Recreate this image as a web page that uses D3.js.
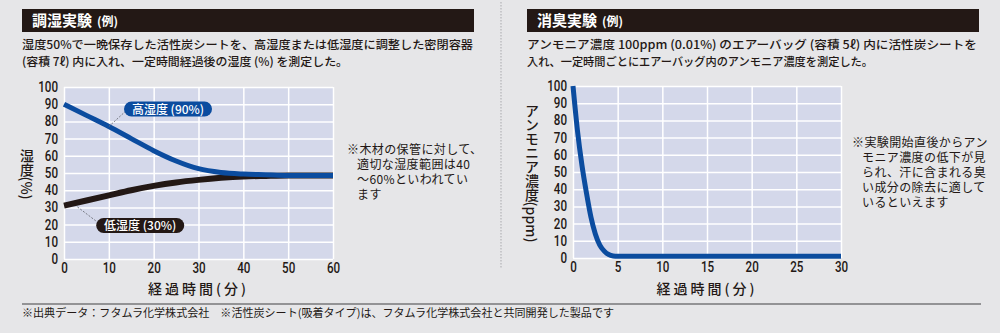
<!DOCTYPE html>
<html lang="ja">
<head>
<meta charset="utf-8">
<script src="https://cdn.jsdelivr.net/npm/d3@7"></script>
<style>
  html, body { margin: 0; padding: 0; background: #e6e6e8; }
  svg { display: block; }
  .jp { font-family: "Noto Sans CJK JP", "Noto Sans", sans-serif; }
  .num { font-family: Roboto, "Noto Sans", sans-serif; }
</style>
</head>
<body>
<svg id="chart" width="1000" height="333"></svg>
<script>
// ---- Data ----
const humidityTime = [0, 5, 10, 15, 20, 25, 30, 35, 40, 45, 50, 55, 60];
const highHumidity = [90, 83.5, 77, 70, 63, 57, 52.5, 50.3, 49.4, 49, 48.6, 48.5, 48.5];
const lowHumidity  = [31, 34, 37, 40, 42.5, 44.5, 46, 47.2, 48, 48.3, 48.5, 48.5, 48.5];
const humidityXTicks = [0, 10, 20, 30, 40, 50, 60];
const humidityYTicks = [0, 10, 20, 30, 40, 50, 60, 70, 80, 90, 100];

const ammoniaTime = [0, 0.5, 1, 1.5, 2, 2.5, 3, 3.5, 4, 4.5, 5, 10, 15, 20, 25, 30];
const ammoniaPpm  = [100, 74, 54, 38, 24, 14, 7.5, 4, 2, 1.2, 1, 1, 1, 1, 1, 1];
const ammoniaXTicks = [0, 5, 10, 15, 20, 25, 30];
const ammoniaYTicks = [0, 10, 20, 30, 40, 50, 60, 70, 80, 90, 100];

const INK = "#231815";
const BLUE = "#0b4c9f";
const PLOT_BG = "#d4d8ea";

const svg = d3.select("#chart");

// ---- Section headers and descriptions ----
function header(x0, x1, title) {
  svg.append("rect").attr("x", x0).attr("y", 9).attr("width", x1 - x0).attr("height", 23).attr("fill", INK);
  const t = svg.append("text").attr("class", "jp").attr("x", x0 + 10).attr("y", 26)
    .attr("fill", "#fff").attr("font-weight", 700).attr("font-size", 15);
  t.append("tspan").text(title);
  t.append("tspan").attr("font-size", 12).attr("dx", 5).text("(例)");
}
header(22, 474, "調湿実験");
header(527, 979, "消臭実験");

function para(x, y, str, width, size) {
  const t = svg.append("text").attr("class", "jp").attr("x", x).attr("y", y)
    .attr("fill", INK).attr("font-size", size).attr("font-weight", 500).text(str);
  if (width) t.attr("textLength", width).attr("lengthAdjust", "spacingAndGlyphs");
  return t;
}
para(22, 48.5, "湿度50%で一晩保存した活性炭シートを、高湿度または低湿度に調整した密閉容器", 451, 11.7);
para(22, 65.5, "(容積 7ℓ) 内に入れ、一定時間経過後の湿度 (%) を測定した。", 326, 11.7);
para(527, 48.5, "アンモニア濃度 100ppm (0.01%) のエアーバッグ (容積 5ℓ) 内に活性炭シートを", 450, 11.7);
para(527, 65.5, "入れ、一定時間ごとにエアーバッグ内のアンモニア濃度を測定した。", 346, 11.7);

// Side notes
const noteLeft = ["※木材の保管に対して、", "適切な湿度範囲は40", "～60%といわれてい", "ます"];
noteLeft.forEach((s, i) => {
  const t = para(i === 0 ? 347 : 357, 154 + i * 15, s, null, 12);
  t.attr("font-weight", 400).attr("letter-spacing", 0.4);
});
const noteRight = ["※実験開始直後からアン", "モニア濃度の低下が見", "られ、汗に含まれる臭", "い成分の除去に適して", "いるといえます"];
noteRight.forEach((s, i) => {
  const t = para(i === 0 ? 852 : 862, 147 + i * 15, s, null, 12);
  t.attr("font-weight", 400).attr("letter-spacing", 0.4);
});

// Divider between panels and bottom rule
svg.append("line").attr("x1", 501).attr("x2", 501).attr("y1", 2).attr("y2", 268)
  .attr("stroke", "#a9a9ad").attr("stroke-width", 1).attr("stroke-dasharray", "1.5,1.5");
svg.append("line").attr("x1", 22).attr("x2", 981).attr("y1", 304).attr("y2", 304)
  .attr("stroke", "#77777a").attr("stroke-width", 1.5);
para(22, 317, "※出典データ：フタムラ化学株式会社　※活性炭シート(吸着タイプ)は、フタムラ化学株式会社と共同開発した製品です", 592, 11)
  .attr("font-weight", 400);

// ---- Panel builder ----
function panel(opts) {
  const x = d3.scaleLinear().domain(opts.xDomain).range([opts.left, opts.right]);
  const y = d3.scaleLinear().domain([0, 100]).range([opts.bottom, opts.top]);
  const g = svg.append("g");

  g.append("rect").attr("x", opts.left).attr("y", opts.top)
    .attr("width", opts.right - opts.left).attr("height", opts.bottom - opts.top).attr("fill", PLOT_BG);

  // grid
  g.append("g").attr("transform", `translate(0,${opts.bottom})`)
    .call(d3.axisBottom(x).tickValues(opts.gridX).tickSize(-(opts.bottom - opts.top)).tickFormat(""))
    .call(a => a.select(".domain").remove())
    .call(a => a.selectAll("line").attr("stroke", "#fff").attr("stroke-width", 1.5));
  g.append("g").attr("transform", `translate(${opts.left},0)`)
    .call(d3.axisLeft(y).tickValues(opts.yTicks).tickSize(-(opts.right - opts.left)).tickFormat(""))
    .call(a => a.select(".domain").remove())
    .call(a => a.selectAll("line").attr("stroke", "#fff").attr("stroke-width", 1.5));

  // tick labels
  g.append("g").attr("transform", `translate(${opts.left},0)`)
    .call(d3.axisLeft(y).tickValues(opts.yTicks).tickSize(0).tickPadding(6))
    .call(a => a.select(".domain").remove())
    .call(a => a.selectAll("text").attr("class", "num").attr("fill", INK)
      .attr("font-size", 14).attr("font-weight", 500)
      .attr("textLength", d => String(d).length * 6.6).attr("lengthAdjust", "spacingAndGlyphs"));
  g.append("g").attr("transform", `translate(0,${opts.bottom})`)
    .call(d3.axisBottom(x).tickValues(opts.xTicks).tickSize(0).tickPadding(4))
    .call(a => a.select(".domain").remove())
    .call(a => a.selectAll("text").attr("class", "num").attr("fill", INK)
      .attr("font-size", 14).attr("font-weight", 500)
      .attr("textLength", d => String(d).length * 6.6).attr("lengthAdjust", "spacingAndGlyphs"));

  // axis titles
  g.append("text").attr("class", "jp").attr("x", (opts.left + opts.right) / 2).attr("y", 294)
    .attr("text-anchor", "middle").attr("fill", INK).attr("font-size", 14).attr("font-weight", 500)
    .attr("letter-spacing", 3).text("経過時間(分)");
  g.append("text").attr("class", "jp").attr("x", opts.yTitleX).attr("y", opts.yTitleY)
    .attr("writing-mode", "vertical-rl").attr("text-anchor", "middle")
    .attr("fill", INK).attr("font-size", 14).attr("font-weight", 500).text(opts.yTitle);

  return { x, y, g };
}

// ---- Humidity panel ----
const hp = panel({
  left: 64, right: 333, top: 87, bottom: 259,
  xDomain: [0, 60], xTicks: humidityXTicks, gridX: humidityXTicks, yTicks: humidityYTicks,
  yTitle: "湿度(%)", yTitleX: 27, yTitleY: 174
});
const hLine = d3.line().x((d, i) => hp.x(humidityTime[i])).y(d => hp.y(d)).curve(d3.curveMonotoneX);

// label pills with dashed leader lines
function pill(p, cx, cy, w, text, fill, fromT, fromV, toDx, toDy, offsetY) {
  const px = p.x(cx), py = p.y(cy);
  p.g.append("line")
    .attr("x1", p.x(fromT)).attr("y1", p.y(fromV) + offsetY)
    .attr("x2", px + toDx).attr("y2", py + toDy)
    .attr("stroke", "#6d6f78").attr("stroke-width", 0.9).attr("stroke-dasharray", "2,1.5");
  p.g.append("rect").attr("x", px - w / 2).attr("y", py - 7.5).attr("width", w).attr("height", 15)
    .attr("rx", 7.5).attr("fill", fill);
  p.g.append("text").attr("class", "jp").attr("x", px).attr("y", py + 4.5).attr("text-anchor", "middle")
    .attr("fill", "#fff").attr("font-size", 12).attr("font-weight", 500).text(text);
}

hp.g.append("path").datum(lowHumidity).attr("d", hLine)
  .attr("fill", "none").attr("stroke", INK).attr("stroke-width", 6);
hp.g.append("path").datum(highHumidity).attr("d", hLine)
  .attr("fill", "none").attr("stroke", BLUE).attr("stroke-width", 5);

pill(hp, 23.2, 87.2, 88, "高湿度 (90%)", BLUE, 10, 77, -40, 0, 0);
pill(hp, 17, 19.5, 88, "低湿度 (30%)", INK, 3, 32.6, -41, -2, 4);

// ---- Ammonia panel ----
const ap = panel({
  left: 573, right: 841, top: 86, bottom: 258,
  xDomain: [0, 30], xTicks: ammoniaXTicks, gridX: ammoniaXTicks, yTicks: ammoniaYTicks,
  yTitle: "アンモニア濃度(ppm)", yTitleX: 532, yTitleY: 173
});
const aLine = d3.line().x((d, i) => ap.x(ammoniaTime[i])).y(d => ap.y(d)).curve(d3.curveMonotoneX);
ap.g.append("path").datum(ammoniaPpm).attr("d", aLine)
  .attr("fill", "none").attr("stroke", BLUE).attr("stroke-width", 5);
</script>
</body>
</html>
